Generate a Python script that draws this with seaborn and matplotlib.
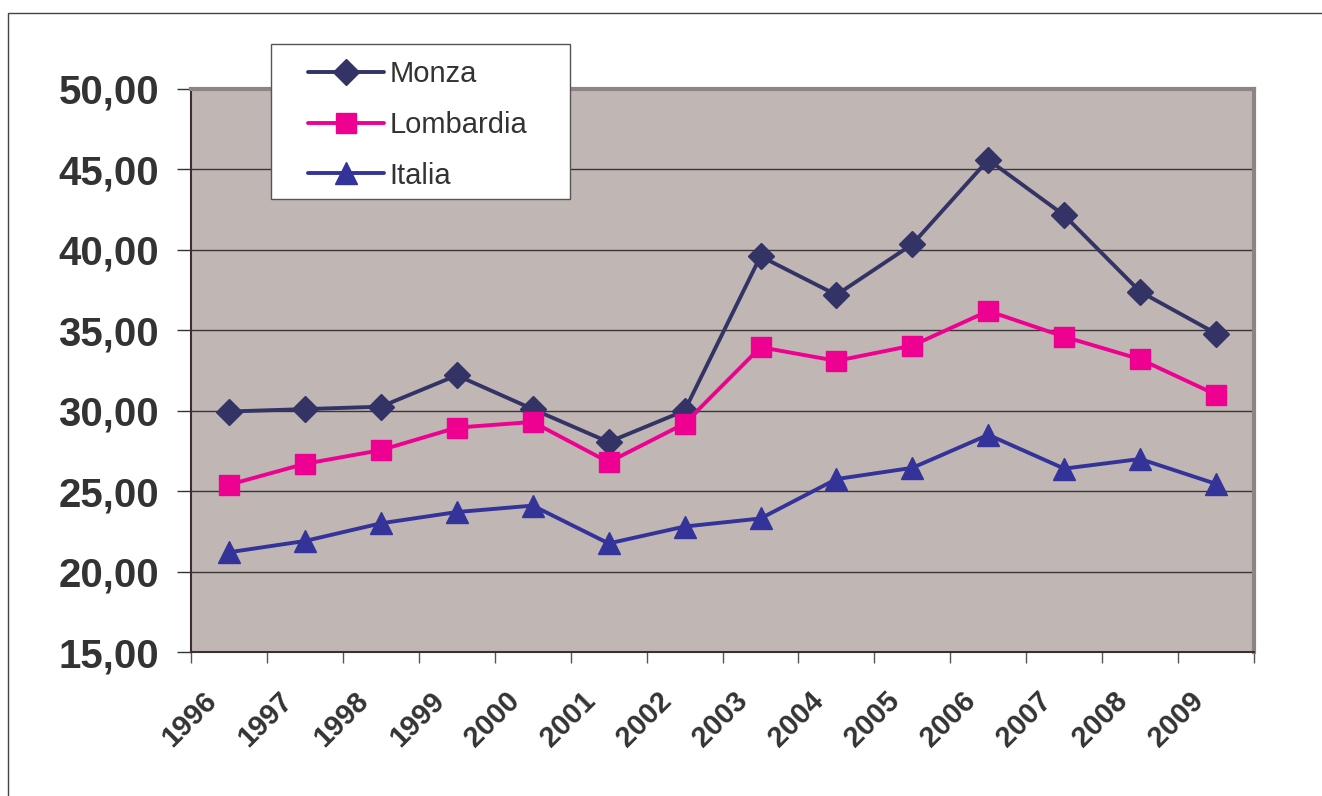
import numpy as np
import pandas as pd
import seaborn as sns
import matplotlib.ticker as mtick
import matplotlib.transforms as mtrans
from matplotlib import pyplot as plt
from matplotlib.patches import Rectangle

years = [1996, 1997, 1998, 1999, 2000, 2001, 2002,
         2003, 2004, 2005, 2006, 2007, 2008, 2009]
monza = [29.95, 30.1, 30.25, 32.2, 30.1, 28.05, 30.0,
         39.6, 37.2, 40.35, 45.6, 42.15, 37.4, 34.8]
lombardia = [25.4, 26.7, 27.55, 28.95, 29.3, 26.8, 29.2,
             33.95, 33.1, 34.05, 36.2, 34.6, 33.2, 31.0]
italia = [21.2, 21.9, 23.0, 23.7, 24.1, 21.75, 22.8,
          23.3, 25.75, 26.45, 28.5, 26.4, 27.0, 25.45]
series_names = ['Monza', 'Lombardia', 'Italia']
y_ticks = [15, 20, 25, 30, 35, 40, 45, 50]

df = pd.DataFrame({
    'anno': years * 3,
    'valore': monza + lombardia + italia,
    'serie': np.repeat(series_names, len(years)),
})

colors = {'Monza': '#333366', 'Lombardia': '#ee0090', 'Italia': '#333399'}
markers = {'Monza': 'D', 'Lombardia': 's', 'Italia': '^'}
msizes = {'Monza': 13, 'Lombardia': 14, 'Italia': 16}

sns.set_style('white')
plt.rcParams['font.family'] = ['Liberation Sans', 'DejaVu Sans']

fig = plt.figure(figsize=(13.22, 7.96), dpi=100)
ax = fig.add_axes([0.1445, 0.1809, 0.8041, 0.7073])
ax.set_facecolor('#c0b7b4')

for name in series_names:
    sns.lineplot(data=df[df['serie'] == name], x='anno', y='valore',
                 color=colors[name], marker=markers[name],
                 markersize=msizes[name], markeredgecolor=colors[name],
                 markeredgewidth=1, linewidth=2.8, label=name, ax=ax,
                 legend=False)

ax.set_xlim(1995.5, 2009.5)
ax.set_ylim(15, 50)
ax.set_xlabel('')
ax.set_ylabel('')

ax.set_yticks(y_ticks)
ax.yaxis.set_major_formatter(mtick.FuncFormatter(lambda v, p: f'{v:.2f}'.replace('.', ',')))
ax.grid(axis='y', color='#3a3636', linewidth=1)
ax.set_axisbelow(True)

ax.set_xticks(years)
ax.set_xticklabels([str(y) for y in years], rotation=45, ha='right',
                   rotation_mode='anchor')
ax.set_xticks([y - 0.5 for y in years] + [2009.5], minor=True)
ax.tick_params(axis='x', which='major', length=0, pad=25, labelsize=21,
               colors='#333333')
ax.tick_params(axis='x', which='minor', length=8, width=1, color='#555555',
               direction='out', bottom=True)
shift = mtrans.ScaledTranslation(-27 / 100, 0, fig.dpi_scale_trans)
for lab in ax.get_xticklabels():
    lab.set_fontweight('bold')
    lab.set_transform(lab.get_transform() + shift)
ax.tick_params(axis='y', length=10, width=1, color='#333333', pad=13,
               labelsize=29, labelcolor='#333333', direction='out', left=True)
for lab in ax.get_yticklabels():
    lab.set_fontweight('bold')

for side in ['top', 'right']:
    ax.spines[side].set_color('#8f8484')
    ax.spines[side].set_linewidth(3)
for side in ['left', 'bottom']:
    ax.spines[side].set_color('#3a3030')
    ax.spines[side].set_linewidth(1.5)

# legend box drawn by hand, entries via legend
fig.patches.append(Rectangle((271 / 1322, 1 - 199 / 796), 299 / 1322, 155 / 796,
                             transform=fig.transFigure, facecolor='white',
                             edgecolor='#555555', linewidth=1, zorder=5))
handles, labels = ax.get_legend_handles_labels()
leg = fig.legend(handles, labels, loc='upper left',
                 bbox_to_anchor=(308 / 1322, 1 - 60 / 796),
                 bbox_transform=fig.transFigure, frameon=False,
                 fontsize=21, handlelength=2.6, handletextpad=0.2,
                 labelspacing=0.78, borderpad=0, borderaxespad=0)
leg.set_zorder(6)
for t in leg.get_texts():
    t.set_color('#333333')

# outer chart frame
fig.patches.append(Rectangle((8 / 1322, -0.1), 1.2, 0.1 + (1 - 13 / 796),
                             transform=fig.transFigure, fill=False,
                             edgecolor='#444444', linewidth=1))

plt.savefig('out.png', dpi=100)
